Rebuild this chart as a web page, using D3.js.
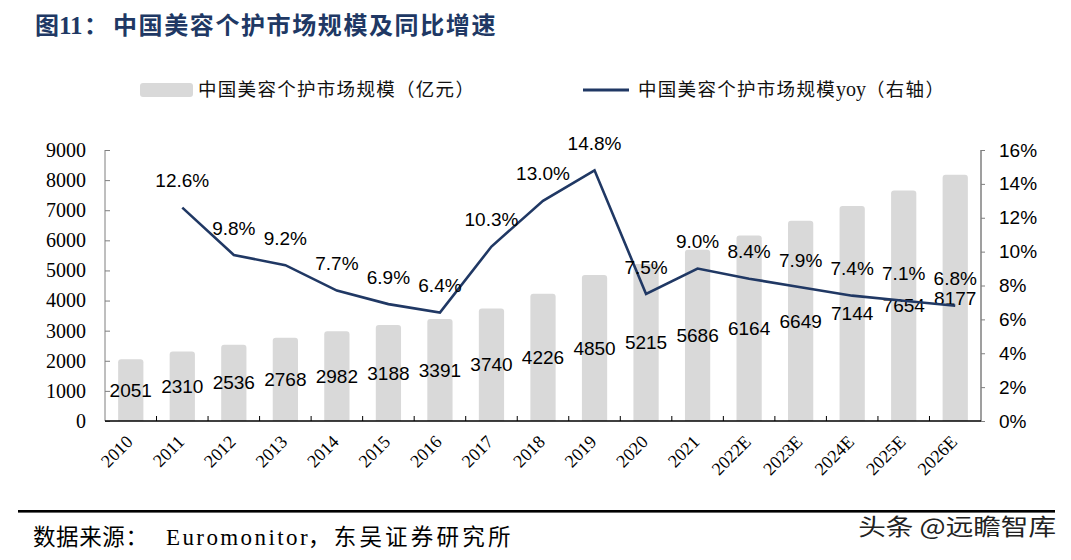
<!DOCTYPE html>
<html><head><meta charset="utf-8">
<script src="https://cdn.jsdelivr.net/npm/d3@7/dist/d3.min.js"></script>
<style>
html,body{margin:0;padding:0;background:#fff;}
svg{display:block;}
</style></head>
<body>
<svg id="chart" width="1071" height="560"></svg>
<script>
const categories = ["2010","2011","2012","2013","2014","2015","2016","2017","2018","2019","2020","2021","2022E","2023E","2024E","2025E","2026E"];
const marketSize = [2051,2310,2536,2768,2982,3188,3391,3740,4226,4850,5215,5686,6164,6649,7144,7654,8177];
const yoy = [null,12.6,9.8,9.2,7.7,6.9,6.4,10.3,13.0,14.8,7.5,9.0,8.4,7.9,7.4,7.1,6.8];
const leftTicks = [0,1000,2000,3000,4000,5000,6000,7000,8000,9000];
const rightTicks = [0,2,4,6,8,10,12,14,16];
const titleParts = ["图","11","：","中国美容个护市场规模及同比增速"];
const legendBar = "中国美容个护市场规模（亿元）";
const legendLine = ["中国美容个护市场规模","yoy","（右轴）"];
const sourceText = ["数据来源：","Euromonitor","，东吴证券研究所"];
const watermark = "头条 @远瞻智库";

const svg = d3.select("#chart");
const L = 105, R = 981, T = 150, B = 421;
const serif = "'Liberation Serif','Noto Sans CJK SC',serif";
const sans = "'Liberation Sans',Arial,sans-serif";
const cjk = "'Noto Sans CJK SC',sans-serif";
const navy = "#203864";

const x = d3.scaleBand().domain(categories).range([L,R]).paddingInner(0.51).paddingOuter(0.255);
const yL = d3.scaleLinear().domain([0,9000]).range([B,T]);
const yR = d3.scaleLinear().domain([0,16]).range([B,T]);

// Title
const title = svg.append("text").attr("y",34)
  .attr("font-family",cjk).attr("font-weight","bold")
  .attr("font-size",24).attr("fill",navy);
title.append("tspan").attr("x",35).text(titleParts[0]);
title.append("tspan").attr("x",59).attr("font-family",serif).attr("font-size",25).text(titleParts[1]);
title.append("tspan").attr("x",84).text(titleParts[2]);
title.append("tspan").attr("x",113).attr("letter-spacing",1.6).text(titleParts[3]);

// Legend
svg.append("rect").attr("x",140).attr("y",83).attr("width",53).attr("height",14).attr("rx",3).attr("fill","#d9d9d9");
svg.append("text").attr("x",198).attr("y",90).attr("dy","0.35em").attr("font-family",cjk).attr("font-size",18.5)
  .attr("letter-spacing",1.3).attr("fill","#111").text(legendBar);
svg.append("line").attr("x1",583).attr("x2",629).attr("y1",90).attr("y2",90).attr("stroke",navy).attr("stroke-width",3);
const ll = svg.append("text").attr("x",638).attr("y",90).attr("dy","0.35em").attr("font-family",cjk).attr("font-size",18.5).attr("fill","#111");
ll.append("tspan").attr("letter-spacing",1.3).text(legendLine[0]);
ll.append("tspan").attr("font-family",serif).attr("font-size",20).text(legendLine[1]);
ll.append("tspan").attr("letter-spacing",1.3).text(legendLine[2]);

// Bars
svg.append("g").selectAll("path").data(categories).join("path")
  .attr("fill","#d9d9d9")
  .attr("d",(c,i)=>{
    const x0 = x(c), w = x.bandwidth(), y0 = yL(marketSize[i]), r = 3;
    return `M${x0},${B}V${y0+r}Q${x0},${y0} ${x0+r},${y0}H${x0+w-r}Q${x0+w},${y0} ${x0+w},${y0+r}V${B}Z`;
  });

// Axes
const gL = svg.append("g").attr("transform",`translate(${L},0)`)
  .call(d3.axisLeft(yL).tickValues(leftTicks).tickSize(-5).tickPadding(19).tickFormat(d3.format("d")));
gL.select(".domain").attr("stroke","#7f7f7f").attr("d",`M0,${T}V${B}`);
gL.selectAll(".tick line").attr("stroke","#7f7f7f");
gL.selectAll(".tick text").attr("font-family",serif).attr("font-size",20).attr("fill","#000");

const gR = svg.append("g").attr("transform",`translate(${R},0)`)
  .call(d3.axisRight(yR).tickValues(rightTicks).tickSize(4).tickPadding(14).tickFormat(d=>d+"%"));
gR.select(".domain").attr("stroke","#7f7f7f").attr("stroke-width",1.5).attr("d",`M0,${T}V${B}`);
gR.selectAll(".tick line").attr("stroke","#7f7f7f");
gR.selectAll(".tick text").attr("font-family",sans).attr("font-size",19).attr("fill","#000");

// X axis
const gX = svg.append("g").attr("transform",`translate(0,${B})`);
gX.append("line").attr("x1",L).attr("x2",R).attr("stroke","#000").attr("stroke-width",1.3);
gX.selectAll("line.tk").data(categories.slice(1)).join("line").attr("class","tk")
  .attr("x1",c=>x(c)-x.step()*x.paddingInner()/2).attr("x2",c=>x(c)-x.step()*x.paddingInner()/2)
  .attr("y1",0).attr("y2",-5).attr("stroke","#000");
svg.append("g").selectAll("text").data(categories).join("text")
  .attr("transform",c=>`translate(${x(c)+x.bandwidth()/2+3},${443}) rotate(-45)`)
  .attr("text-anchor","end").attr("font-family",serif).attr("font-size",18).attr("fill","#000")
  .text(c=>c);

// Bar labels
svg.append("g").selectAll("text").data(categories).join("text")
  .attr("x",c=>x(c)+x.bandwidth()/2)
  .attr("y",(c,i)=>yL(marketSize[i]/2))
  .attr("dy","0.35em").attr("text-anchor","middle")
  .attr("font-family",sans).attr("font-size",19).attr("fill","#000")
  .text((c,i)=>marketSize[i]);

// Line
const pts = categories.map((c,i)=>({c,v:yoy[i]})).filter(d=>d.v!=null);
const line = d3.line().x(d=>x(d.c)+x.bandwidth()/2).y(d=>yR(d.v));
svg.append("path").datum(pts).attr("d",line).attr("fill","none").attr("stroke",navy).attr("stroke-width",2.6).attr("stroke-linejoin","miter");

svg.append("g").selectAll("text").data(pts).join("text")
  .attr("x",d=>x(d.c)+x.bandwidth()/2)
  .attr("y",d=>yR(d.v)-27)
  .attr("dy","0.35em").attr("text-anchor","middle")
  .attr("font-family",sans).attr("font-size",19).attr("fill","#000")
  .text(d=>d.v.toFixed(1)+"%");

// Footer
svg.append("rect").attr("x",18).attr("y",510).attr("width",1037).attr("height",2.6).attr("fill","#000");
const src = svg.append("text").attr("y",545).attr("font-family",cjk).attr("font-size",22.5).attr("fill","#000");
src.append("tspan").attr("x",33).attr("letter-spacing",0.6).text(sourceText[0]);
src.append("tspan").attr("x",166).attr("font-family",serif).attr("font-size",23).attr("letter-spacing",2.4).text(sourceText[1]);
src.append("tspan").attr("x",308).attr("letter-spacing",3.2).text(sourceText[2]);
svg.append("text").attr("transform","translate(1056,535) scale(1.2,1)").attr("text-anchor","end")
  .attr("font-family",cjk).attr("font-size",23).attr("fill","#222").text(watermark);
</script>
</body></html>
